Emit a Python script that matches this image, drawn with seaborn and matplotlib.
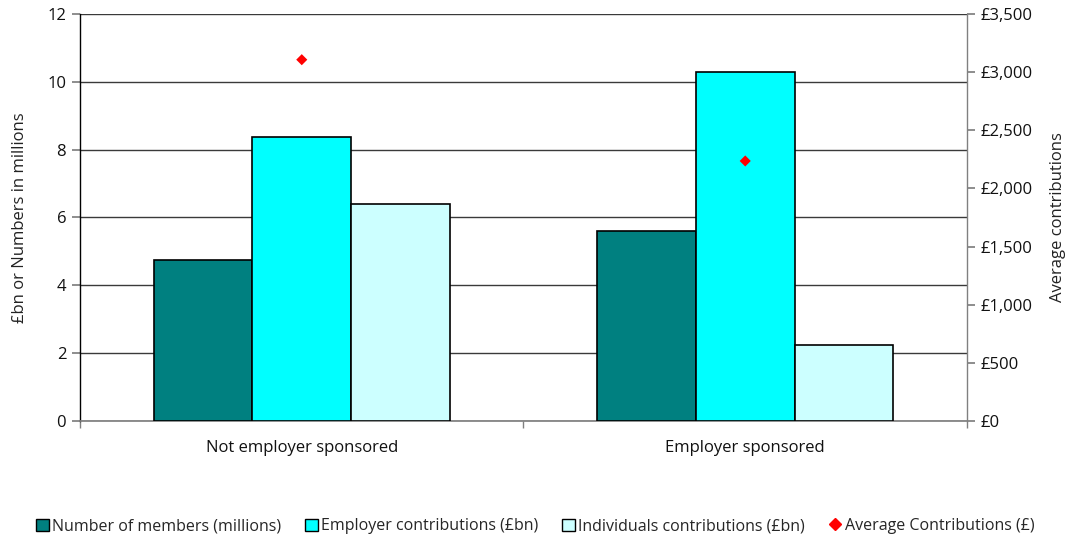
import matplotlib
matplotlib.use("Agg")
import matplotlib.pyplot as plt
import seaborn as sns
import pandas as pd
from matplotlib.lines import Line2D
from matplotlib.patches import Patch
from matplotlib.ticker import FuncFormatter, FixedLocator

categories = ["Not employer sponsored", "Employer sponsored"]
members = [4.76, 5.61]
employer_contrib = [8.37, 10.30]
individual_contrib = [6.41, 2.24]
avg_contrib = [3107, 2236]

series_names = ["Number of members (millions)", "Employer contributions (£bn)",
                "Individuals contributions (£bn)"]
avg_name = "Average Contributions (£)"
colors = ["#008080", "#00FFFF", "#CCFFFF"]

sns.set_theme(style="white")
plt.rcParams["font.family"] = ["Open Sans", "DejaVu Sans"]

rows = []
for name, vals in zip(series_names, [members, employer_contrib, individual_contrib]):
    for c, v in zip(categories, vals):
        rows.append({"cat": c, "series": name, "val": v})
df = pd.DataFrame(rows)

fig = plt.figure(figsize=(10.7, 5.38), dpi=100)
ax = fig.add_axes([0.0748, 0.2175, 0.8289, 0.7565])

sns.barplot(data=df, x="cat", y="val", hue="series", order=categories,
            hue_order=series_names, palette=colors, saturation=1, width=0.667, gap=0,
            edgecolor="black", linewidth=1.2, ax=ax, legend=False, zorder=3)

fs = 12
ax.set_xlim(-0.5, 1.5)
ax.set_ylim(0, 12)
ax.set_yticks(range(0, 13, 2))
ax.yaxis.grid(True, color="#3a3a3a", linewidth=1.0, zorder=0)
ax.set_axisbelow(True)
ax.set_xlabel("")
ax.set_ylabel("£bn or Numbers in millions", fontsize=fs, color="#222222", labelpad=14)
ax.tick_params(axis="y", which="major", length=6, color="#808080", direction="out",
               labelsize=fs, left=True, pad=4, labelcolor="#111111")
ax.tick_params(axis="x", which="major", length=0, labelsize=fs, pad=14, labelcolor="#111111")
ax.xaxis.set_minor_locator(FixedLocator([-0.5, 0.5, 1.5]))
ax.tick_params(axis="x", which="minor", length=5, color="#808080", direction="out", bottom=True)
ax.spines["top"].set_visible(False)
ax.spines["left"].set_color("black")
ax.spines["left"].set_linewidth(1.0)
ax.spines["bottom"].set_color("#808080")
ax.spines["right"].set_visible(False)

ax2 = ax.twinx()
sns.scatterplot(x=[0, 1], y=avg_contrib, marker="D", color="#FF0000", s=32,
                edgecolor="none", ax=ax2, zorder=5, legend=False)
ax2.set_ylim(0, 3500)
ax2.set_xlim(-0.5, 1.5)
ax2.set_yticks(range(0, 3501, 500))
ax2.yaxis.set_major_formatter(FuncFormatter(lambda v, p: f"£{int(v):,}"))
ax2.set_ylabel("Average contributions", fontsize=fs, color="#222222", labelpad=12)
ax2.tick_params(axis="y", length=6, color="#808080", direction="out", labelsize=fs,
                right=True, pad=4, labelcolor="#111111")
for s in ["top", "left", "bottom"]:
    ax2.spines[s].set_visible(False)
ax2.spines["right"].set_color("#808080")
ax2.spines["right"].set_linewidth(1.0)

handles = [Patch(facecolor=c, edgecolor="black", linewidth=1.0) for c in colors]
handles.append(Line2D([], [], marker="D", color="#FF0000", linestyle="none", markersize=6))
fig.legend(handles, series_names + [avg_name], loc="center", bbox_to_anchor=(0.5, 0.022),
           ncol=4, frameon=False, fontsize=11.5, handlelength=0.8, handleheight=0.8,
           handletextpad=0.2, columnspacing=1.5)

fig.savefig("out.png", dpi=100)
